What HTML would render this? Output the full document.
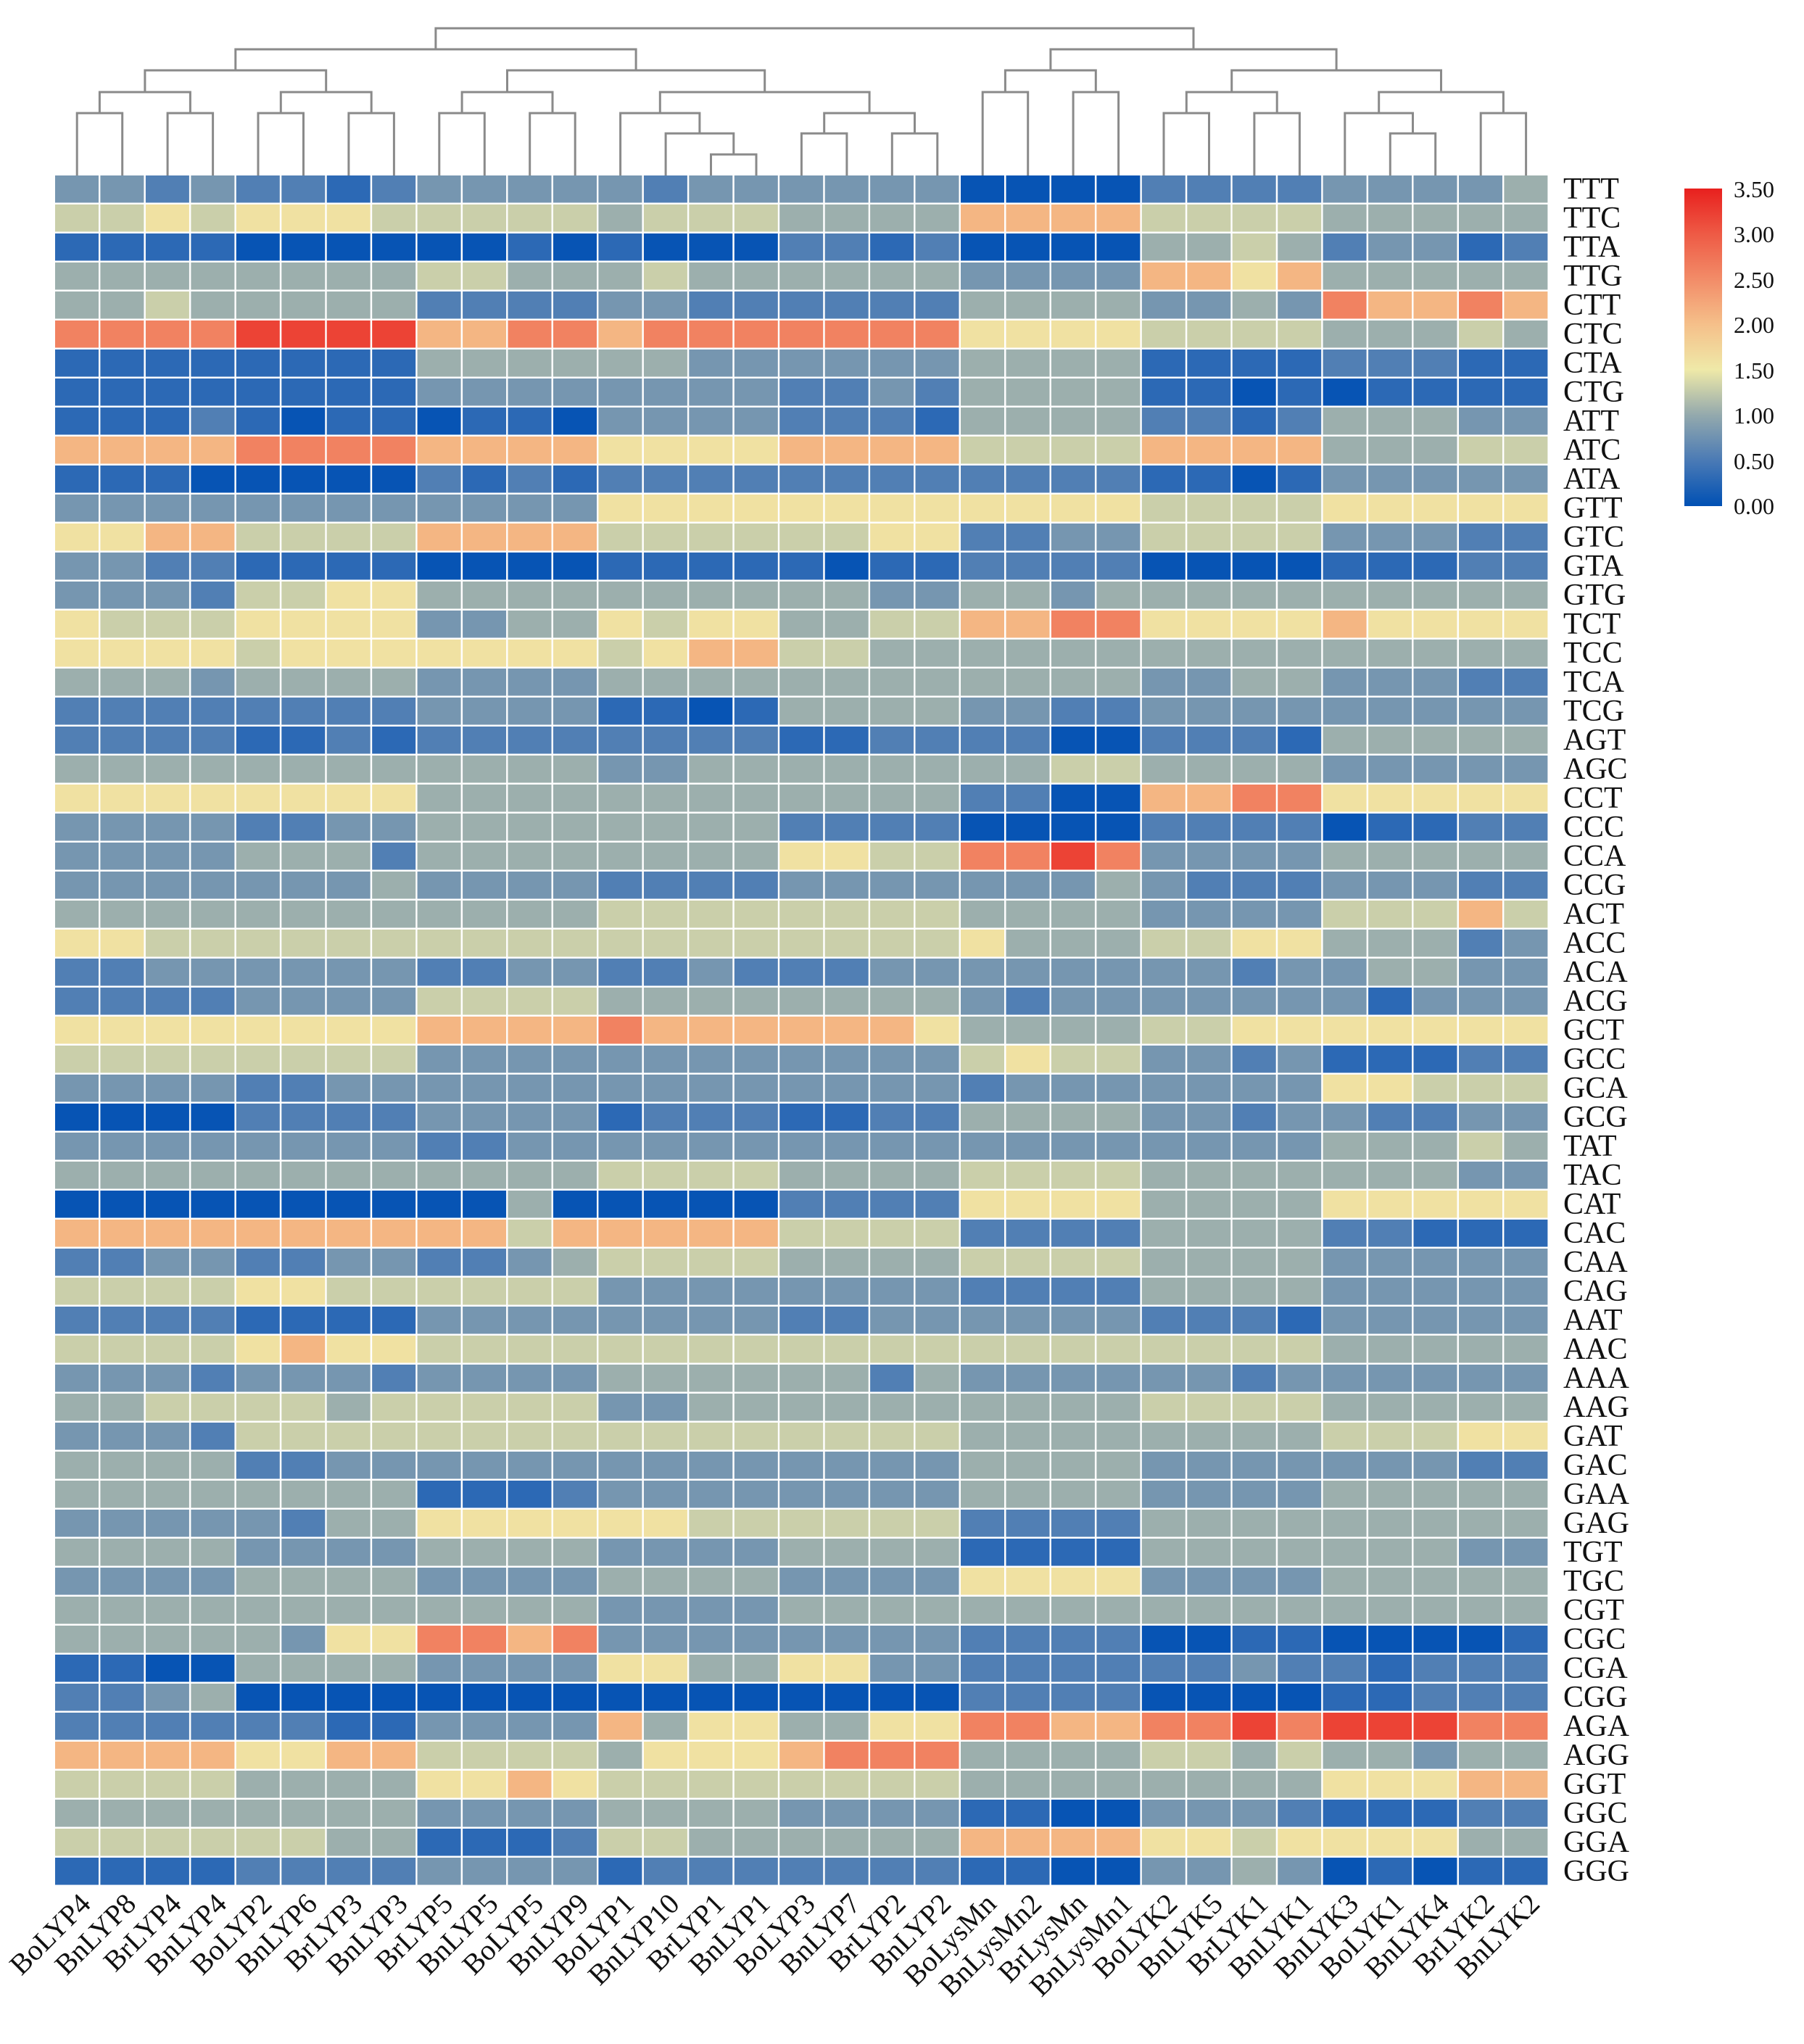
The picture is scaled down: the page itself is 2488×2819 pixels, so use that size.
<!DOCTYPE html>
<html><head><meta charset="utf-8"><style>
body{margin:0;background:#fff;}
svg{display:block;font-family:"Liberation Serif",serif;}
</style></head><body>
<svg id="s" width="2488" height="2819" xmlns="http://www.w3.org/2000/svg">
<defs><linearGradient id="cb" x1="0" y1="1" x2="0" y2="0">
<stop offset="0" stop-color="#0050b4"/><stop offset="0.143" stop-color="#4a7ab5"/><stop offset="0.286" stop-color="#93a9ad"/><stop offset="0.43" stop-color="#efe9a8"/><stop offset="0.571" stop-color="#f5c08a"/><stop offset="0.714" stop-color="#f28c68"/><stop offset="0.857" stop-color="#ee5a45"/><stop offset="1" stop-color="#e8201e"/></linearGradient></defs>
<rect x="2323" y="260" width="52" height="438" fill="url(#cb)"/>
<g font-size="32" fill="#111">
<text x="2391" y="272">3.50</text><text x="2391" y="334">3.00</text><text x="2391" y="397">2.50</text><text x="2391" y="459">2.00</text><text x="2391" y="522">1.50</text><text x="2391" y="584">1.00</text><text x="2391" y="647">0.50</text><text x="2391" y="709">0.00</text>
</g>
</svg>
<script>
var rows=["TTT","TTC","TTA","TTG","CTT","CTC","CTA","CTG","ATT","ATC","ATA","GTT","GTC","GTA","GTG","TCT","TCC","TCA","TCG","AGT","AGC","CCT","CCC","CCA","CCG","ACT","ACC","ACA","ACG","GCT","GCC","GCA","GCG","TAT","TAC","CAT","CAC","CAA","CAG","AAT","AAC","AAA","AAG","GAT","GAC","GAA","GAG","TGT","TGC","CGT","CGC","CGA","CGG","AGA","AGG","GGT","GGC","GGA","GGG"];
var cols=["BoLYP4","BnLYP8","BrLYP4","BnLYP4","BoLYP2","BnLYP6","BrLYP3","BnLYP3","BrLYP5","BnLYP5","BoLYP5","BnLYP9","BoLYP1","BnLYP10","BrLYP1","BnLYP1","BoLYP3","BnLYP7","BrLYP2","BnLYP2","BoLysMn","BnLysMn2","BrLysMn","BnLysMn1","BoLYK2","BnLYK5","BrLYK1","BnLYK1","BnLYK3","BoLYK1","BnLYK4","BrLYK2","BnLYK2"];
var D=[
"3323 2212 3333 3233 3333 0000 2222 33334",
"5565 6665 5555 4555 4444 7777 5555 44444",
"1111 0000 0010 1000 2212 0000 4454 23312",
"4444 4444 5544 4544 4444 3333 7767 44444",
"4454 4444 2222 3322 2222 4444 3343 87787",
"8888 9999 7788 7888 8888 6666 5555 44454",
"1111 1111 4444 4433 3333 4444 1111 22211",
"1111 1111 3333 3333 2232 4444 1101 01111",
"1112 1011 0110 3333 2221 4444 2212 44433",
"7777 8888 7777 6666 7777 5555 7777 44455",
"1110 0000 2121 2222 2222 2222 1101 33333",
"3333 3333 3333 6666 6666 6666 5555 66666",
"6677 5555 7777 5555 5566 2233 5555 33322",
"3322 1111 0000 1111 1011 2222 0000 11122",
"3332 5566 4444 4444 4433 4434 4444 44444",
"6555 6666 3344 6566 4455 7788 6666 76666",
"6666 5666 6666 5677 5544 4444 4444 44444",
"4443 4444 3333 4444 4444 4444 3344 33322",
"2222 2222 3333 1101 4444 3322 3333 33333",
"2222 1121 2222 2222 1122 2200 2221 44444",
"4444 4444 4444 3344 4444 4455 4444 33333",
"6666 6666 4444 4444 4444 2200 7788 66666",
"3333 2233 4444 4444 2222 0000 2222 01122",
"3333 4442 4444 4444 6655 8898 3333 44444",
"3333 3334 3333 2222 3333 3334 3222 33322",
"4444 4444 4444 5555 5555 4444 3333 55575",
"6655 5555 5555 5555 5555 6444 5566 44423",
"2233 3333 2233 2232 2233 3333 3323 34433",
"2222 3333 5555 4444 4444 3233 3333 31333",
"6666 6666 7777 8777 7776 4444 5566 66666",
"5555 5555 3333 3333 3333 5655 3323 11122",
"3333 2233 3333 3333 3333 2333 3333 66555",
"0000 2222 3333 1222 1122 4444 3323 32233",
"3333 3333 2233 3333 3333 3333 3333 44454",
"4444 4444 4444 5555 4444 5555 4444 44433",
"0000 0000 0040 0000 2222 6666 4444 66666",
"7777 7777 7757 7777 5555 2222 4444 22111",
"2233 2233 2234 5555 4444 5555 4444 33333",
"5555 6655 5555 3333 3333 2222 4444 33333",
"2222 1111 3333 3333 2233 3333 2221 33333",
"5555 6766 5555 5555 5555 5555 5555 44444",
"3332 3332 3333 4444 4424 3333 3323 33333",
"4455 5545 5555 3344 4444 4444 5555 44444",
"3332 5555 5555 5555 5555 4444 4444 55566",
"4444 2233 3333 3333 3333 4444 3333 33322",
"4444 4444 1112 3333 3333 4444 3333 44444",
"3333 3244 6666 6655 5555 2222 4444 44444",
"4444 3333 4444 3333 4444 1111 4444 44433",
"3333 4444 3333 4444 3333 6666 3333 44444",
"4444 4444 4444 3333 4444 4444 4444 44444",
"4444 4366 8878 3333 3333 2222 0011 00001",
"1100 4444 3333 6644 6633 2222 2232 21222",
"2234 0000 0000 0000 0000 2222 0000 11222",
"2222 2211 3333 7466 4466 8877 8898 99988",
"7777 6677 5555 4666 7888 4444 5545 44344",
"5555 4444 6676 5555 5555 4444 4444 66677",
"4444 4444 3333 4444 3333 1100 3332 11122",
"5555 5544 1112 5544 4444 7777 6656 66644",
"1111 2222 3333 1222 2222 1100 3343 01011"];
var vals=[0.05,0.3,0.55,0.8,1.05,1.3,1.6,2.1,2.6,3.2];
var stops=[[0,[0,80,180]],[0.5,[74,122,181]],[1,[147,169,173]],[1.5,[239,233,168]],[2,[245,192,138]],[2.5,[242,140,104]],[3,[238,90,69]],[3.5,[232,32,30]]];
function col(v){for(var i=0;i<stops.length-1;i++){var a=stops[i],b=stops[i+1];if(v<=b[0]){var t=(v-a[0])/(b[0]-a[0]);var c=a[1].map(function(x,k){return Math.round(x+(b[1][k]-x)*t);});return "rgb("+c.join(",")+")";}}return "rgb(232,32,30)";}
var X0=76,Y0=242,CW=62.45,RH=40.0;
var h="";
for(var r=0;r<59;r++){var s=D[r].replace(/ /g,"");for(var c=0;c<33;c++){var v=vals[+s[c]];h+='<rect x="'+(X0+c*CW).toFixed(1)+'" y="'+(Y0+r*RH).toFixed(1)+'" width="'+(CW-2.5).toFixed(1)+'" height="'+(RH-2.5).toFixed(1)+'" fill="'+col(v)+'"/>';}
h+='<text x="2156" y="'+(Y0+r*RH+32).toFixed(1)+'" font-size="42" fill="#111">'+rows[r]+'</text>';}
for(var c=0;c<33;c++){var cx=X0+c*CW+CW/2+20,cy=2628;h+='<text x="'+cx.toFixed(1)+'" y="'+cy+'" font-size="40" fill="#111" text-anchor="end" transform="rotate(-45 '+cx.toFixed(1)+' '+cy+')">'+cols[c]+'</text>';}
function cxo(i){return X0+i*CW+CW/2-1;}
var L=242;
function leaf(i){return {x:cxo(i),y:L};}
var lines="";
function link(a,b,y){lines+='M'+a.x.toFixed(1)+' '+a.y+'V'+y+'H'+b.x.toFixed(1)+'V'+b.y;}
function N(a,b,y){link(a,b,y);return {x:(a.x+b.x)/2,y:y};}
var l=[];for(var i=0;i<33;i++)l.push(leaf(i));
var a=N(N(N(l[0],l[1],156),N(l[2],l[3],156),127),N(N(l[4],l[5],156),N(l[6],l[7],156),127),97);
var c1=N(N(l[8],l[9],156),N(l[10],l[11],156),127);
var d=N(l[12],N(l[13],N(l[14],l[15],213),184),156);
var e=N(N(l[16],l[17],184),N(l[18],l[19],184),156);
var de=N(d,e,127);
var left=N(a,N(c1,de,97),68);
var f=N(N(l[20],l[21],127),N(l[22],l[23],127),97);
var g=N(N(l[24],l[25],156),N(l[26],l[27],156),127);
var hh=N(N(l[28],N(l[29],l[30],184),156),N(l[31],l[32],156),127);
var right=N(f,N(g,hh,97),68);
N(left,right,39);
h+='<path d="'+lines+'" fill="none" stroke="#8a8a8a" stroke-width="3"/>';
document.getElementById("s").insertAdjacentHTML("beforeend",h);
</script>
</body></html>
